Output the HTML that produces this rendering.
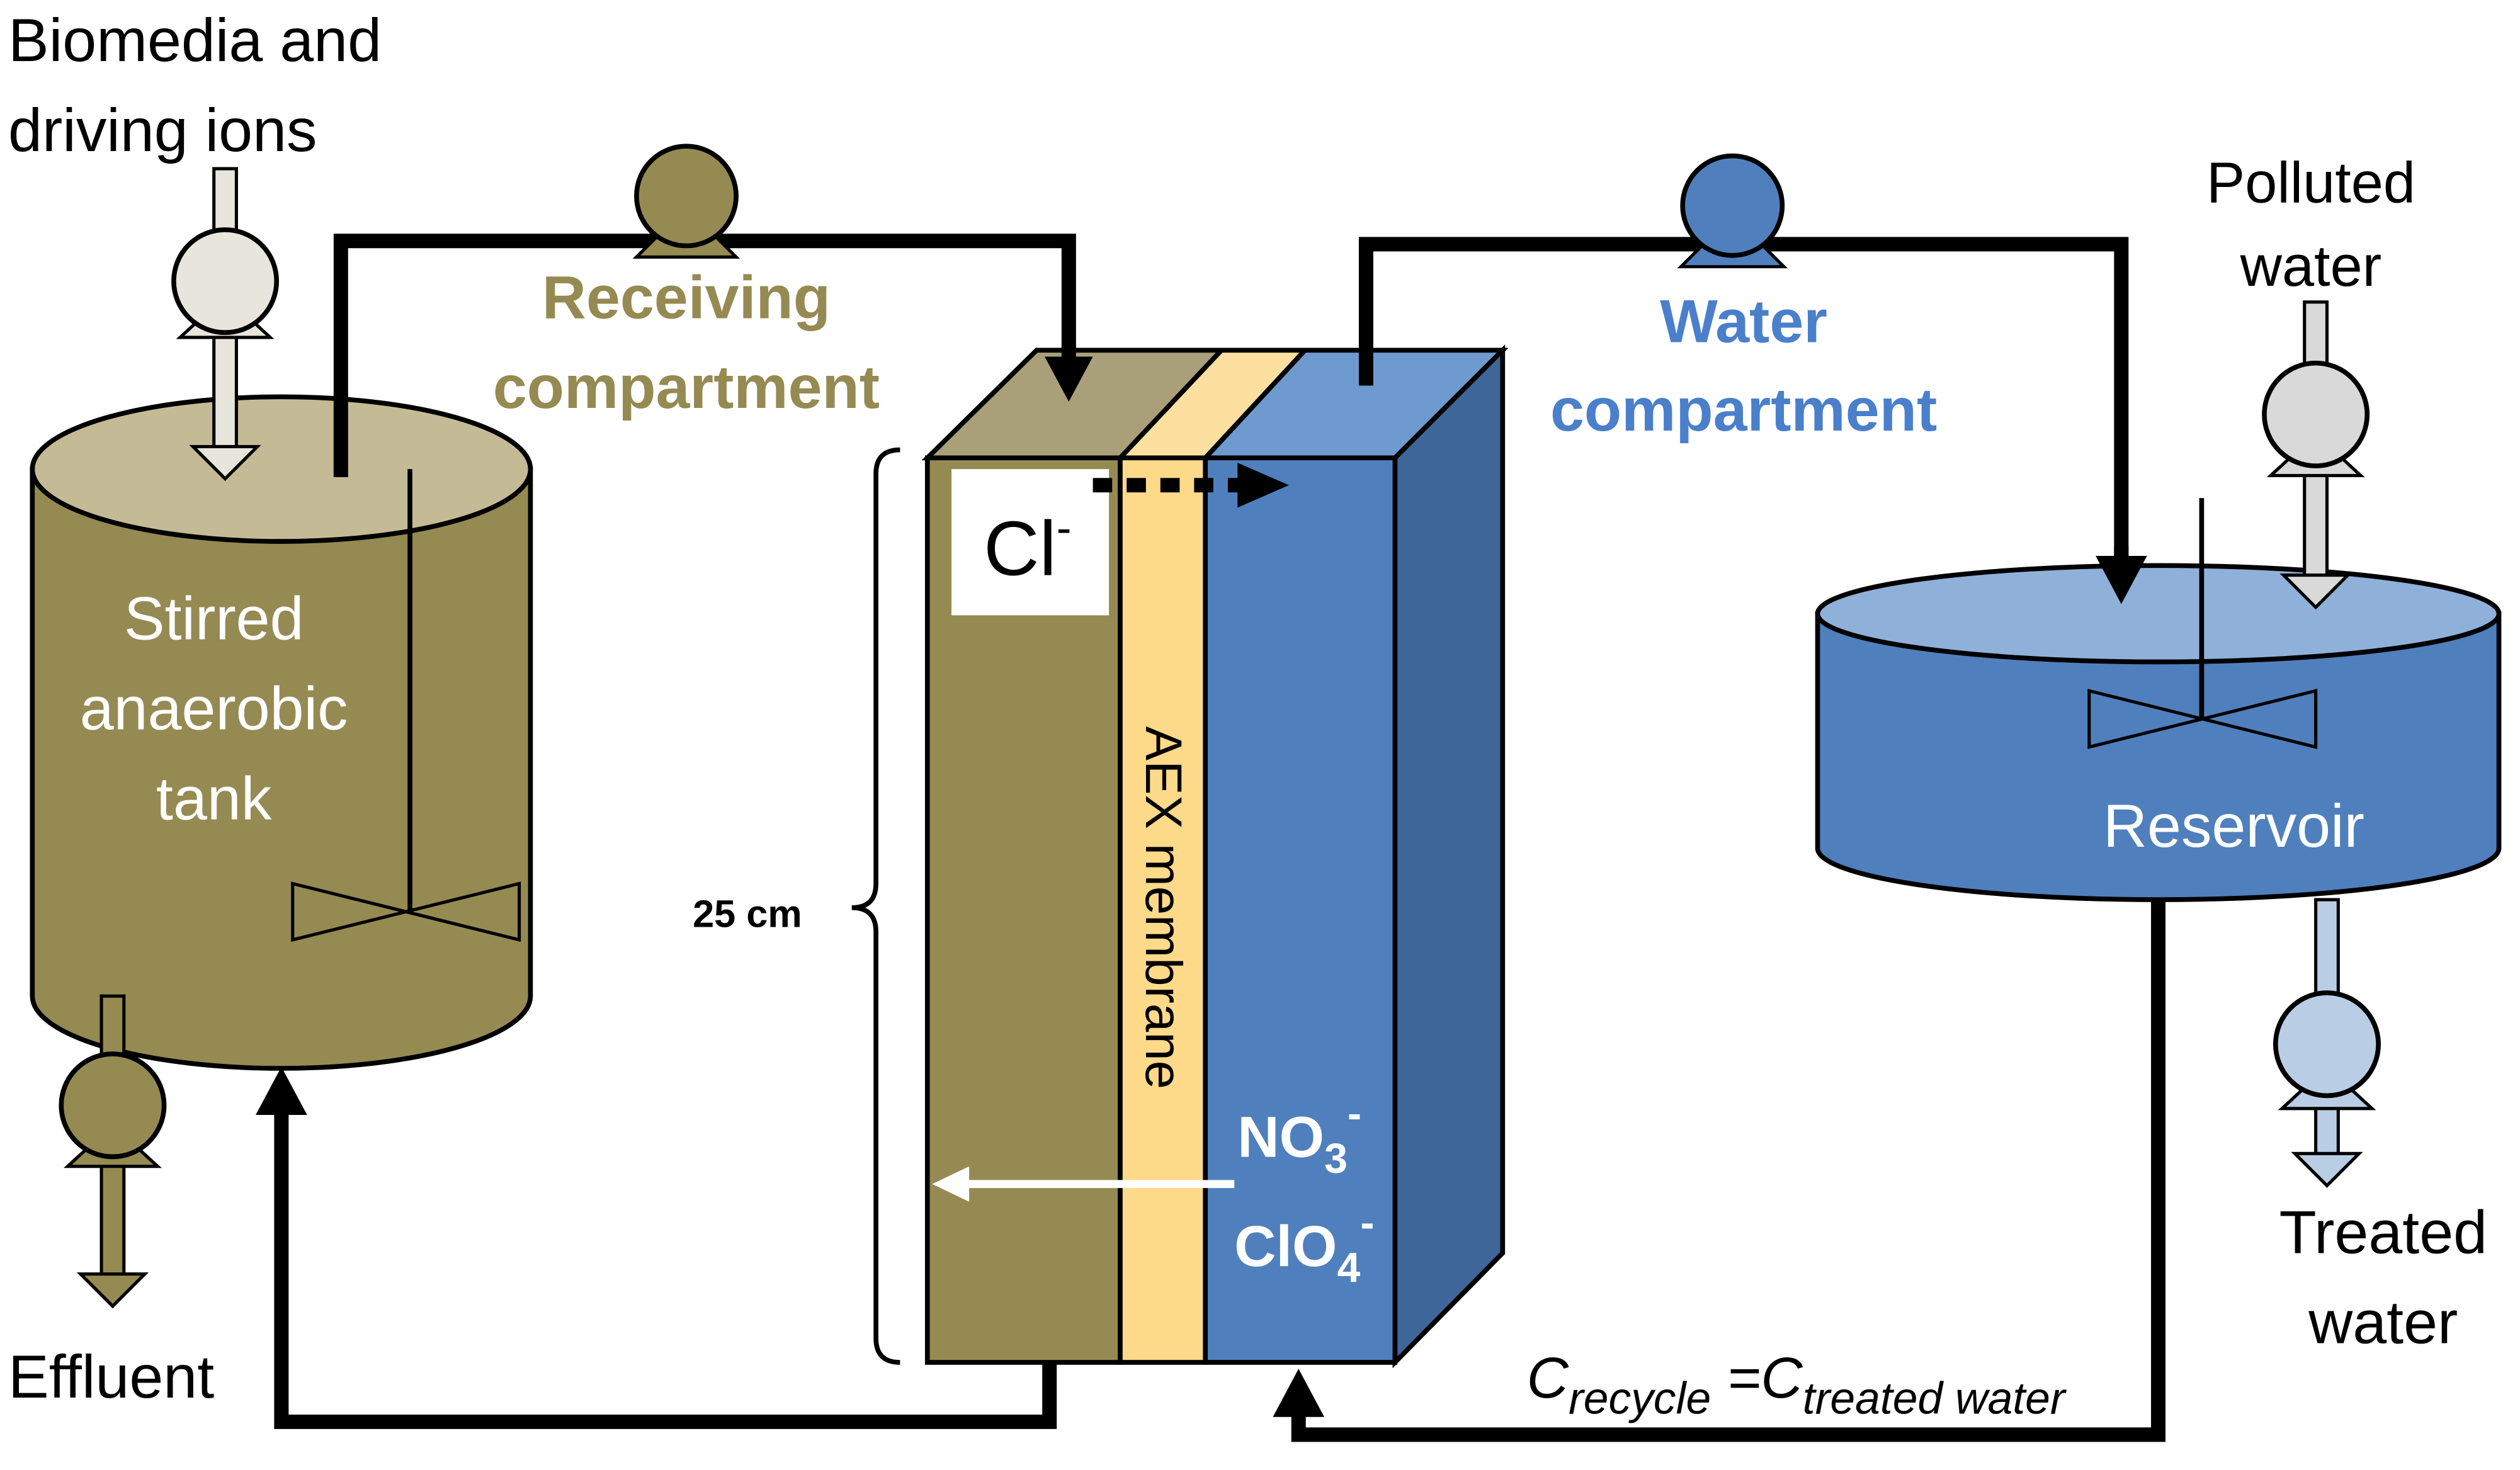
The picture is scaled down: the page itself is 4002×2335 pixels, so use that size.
<!DOCTYPE html>
<html><head><meta charset="utf-8"><style>
html,body{margin:0;padding:0;background:#fff}
svg{display:block}
text{font-family:"Liberation Sans",sans-serif}
</style></head><body>
<svg width="4002" height="2335" viewBox="0 0 1568 915" xmlns="http://www.w3.org/2000/svg">
<rect width="1568" height="915" fill="#fff"/>
<!-- Tank -->
<path d="M20,292 L20,620 A155,45 0 0 0 330,620 L330,292 Z" fill="#958a52" stroke="#000" stroke-width="3"/>
<ellipse cx="175" cy="292" rx="155" ry="45" fill="#c4bb96" stroke="#000" stroke-width="3"/>
<text x="133" y="398" font-size="38" fill="#fff" text-anchor="middle">Stirred</text>
<text x="133" y="454" font-size="38" fill="#fff" text-anchor="middle">anaerobic</text>
<text x="133" y="510" font-size="38" fill="#fff" text-anchor="middle">tank</text>
<line x1="255" y1="292" x2="255" y2="568" stroke="#000" stroke-width="3"/>
<path d="M182,550 L323,585 L323,550 L182,585 Z" fill="none" stroke="#000" stroke-width="2"/>
<!-- feed pipe -->
<rect x="133" y="105" width="14" height="175" fill="#e8e6dc" stroke="#000" stroke-width="2"/>
<path d="M120,278 L160,278 L140,298 Z" fill="#e8e6dc" stroke="#000" stroke-width="2"/>
<path d="M112,210 L168,210 L155,198 L125,198 Z" fill="#e8e6dc" stroke="#000" stroke-width="2"/>
<circle cx="140" cy="175" r="32" fill="#e8e6dc" stroke="#000" stroke-width="3"/>
<text x="5" y="38" font-size="38">Biomedia and</text>
<text x="5" y="94" font-size="38">driving ions</text>
<!-- receiving loop -->
<path d="M212,297 L212,150 L665,150 L665,225" fill="none" stroke="#000" stroke-width="9"/>
<path d="M396,160 L458,160 L444,146 L410,146 Z" fill="#958a52" stroke="#000" stroke-width="2"/>
<circle cx="427" cy="122" r="31" fill="#958a52" stroke="#000" stroke-width="3"/>
<text x="427" y="198" font-size="38" font-weight="bold" fill="#958a52" text-anchor="middle">Receiving</text>
<text x="427" y="254" font-size="38" font-weight="bold" fill="#958a52" text-anchor="middle">compartment</text>
<!-- cell -->
<polygon points="577,285 645,218 760,218 697,285" fill="#a9a079" stroke="#000" stroke-width="3"/>
<polygon points="697,285 760,218 812,218 750,285" fill="#fde0a0" stroke="#000" stroke-width="3"/>
<polygon points="750,285 812,218 935,218 868,285" fill="#6f9ad0" stroke="#000" stroke-width="3"/>
<polygon points="868,285 935,218 935,780 868,848" fill="#3f6699" stroke="#000" stroke-width="3"/>
<rect x="577" y="285" width="120" height="563" fill="#958a52" stroke="#000" stroke-width="3"/>
<rect x="697" y="285" width="53" height="563" fill="#fdd98a" stroke="#000" stroke-width="3"/>
<rect x="750" y="285" width="118" height="563" fill="#4f80bd" stroke="#000" stroke-width="3"/>
<line x1="665" y1="215" x2="665" y2="228" stroke="#000" stroke-width="9"/>
<path d="M650,222 L680,222 L665,250 Z" fill="#000"/>
<rect x="592" y="292" width="98" height="91" fill="#fff"/>
<text x="612" y="358" font-size="48">Cl<tspan font-size="28" dy="-20">-</tspan></text>
<line x1="680" y1="302" x2="775" y2="302" stroke="#000" stroke-width="9" stroke-dasharray="12,9"/>
<path d="M770,288 L802,302 L770,316 Z" fill="#000"/>
<text transform="translate(713,565) rotate(90)" font-size="32" text-anchor="middle">AEX membrane</text>
<text x="770" y="720" font-size="36" font-weight="bold" fill="#fff">NO<tspan font-size="26" dy="10">3</tspan><tspan font-size="26" dy="-28">-</tspan></text>
<text x="768" y="788" font-size="36" font-weight="bold" fill="#fff">ClO<tspan font-size="26" dy="10">4</tspan><tspan font-size="26" dy="-28">-</tspan></text>
<line x1="768" y1="737" x2="600" y2="737" stroke="#fff" stroke-width="5"/>
<path d="M603,726 L580,737 L603,748 Z" fill="#fff"/>
<!-- bracket -->
<path d="M560,280 Q545,280 545,295 L545,550 Q545,565 530,565 Q545,565 545,580 L545,833 Q545,848 560,848" fill="none" stroke="#000" stroke-width="3"/>
<text x="465" y="577" font-size="24" font-weight="bold" text-anchor="middle">25 cm</text>
<!-- water loop -->
<path d="M850,240 L850,152 L1320,152 L1320,350" fill="none" stroke="#000" stroke-width="9"/>
<path d="M1046,166 L1110,166 L1096,152 L1060,152 Z" fill="#4f80bd" stroke="#000" stroke-width="2"/>
<circle cx="1078" cy="128" r="31" fill="#4f80bd" stroke="#000" stroke-width="3"/>
<text x="1085" y="213" font-size="38" font-weight="bold" fill="#4a7fcb" text-anchor="middle">Water</text>
<text x="1085" y="268" font-size="38" font-weight="bold" fill="#4a7fcb" text-anchor="middle">compartment</text>
<!-- reservoir -->
<path d="M1131,382 L1131,528 A212,32 0 0 0 1555,528 L1555,382 Z" fill="#4f80bd" stroke="#000" stroke-width="3"/>
<ellipse cx="1343" cy="382" rx="212" ry="30" fill="#8fb0d9" stroke="#000" stroke-width="3"/>
<line x1="1320" y1="340" x2="1320" y2="352" stroke="#000" stroke-width="9"/>
<path d="M1304,346 L1336,346 L1320,376 Z" fill="#000"/>
<line x1="1370" y1="310" x2="1370" y2="448" stroke="#000" stroke-width="3"/>
<path d="M1300,430 L1441,465 L1441,430 L1300,465 Z" fill="none" stroke="#000" stroke-width="2"/>
<text x="1390" y="527" font-size="38" fill="#fff" text-anchor="middle">Reservoir</text>
<text x="1438" y="126" font-size="36" text-anchor="middle">Polluted</text>
<text x="1438" y="178" font-size="36" text-anchor="middle">water</text>
<rect x="1434" y="188" width="14" height="172" fill="#d9d9d9" stroke="#000" stroke-width="2"/>
<path d="M1421,358 L1461,358 L1441,378 Z" fill="#d9d9d9" stroke="#000" stroke-width="2"/>
<path d="M1413,296 L1469,296 L1456,284 L1426,284 Z" fill="#d9d9d9" stroke="#000" stroke-width="2"/>
<circle cx="1441" cy="258" r="32" fill="#d9d9d9" stroke="#000" stroke-width="3"/>
<rect x="1441" y="560" width="14" height="160" fill="#b9cde5" stroke="#000" stroke-width="2"/>
<path d="M1428,718 L1468,718 L1448,738 Z" fill="#b9cde5" stroke="#000" stroke-width="2"/>
<path d="M1420,690 L1476,690 L1463,678 L1433,678 Z" fill="#b9cde5" stroke="#000" stroke-width="2"/>
<circle cx="1448" cy="650" r="32" fill="#b9cde5" stroke="#000" stroke-width="3"/>
<text x="1483" y="780" font-size="38" text-anchor="middle">Treated</text>
<text x="1483" y="836" font-size="38" text-anchor="middle">water</text>
<!-- return line -->
<path d="M1343,560 L1343,893 L808,893 L808,878" fill="none" stroke="#000" stroke-width="9"/>
<path d="M792,882 L824,882 L808,852 Z" fill="#000"/>
<text x="950" y="870" font-size="36" font-style="italic">C<tspan font-size="28" dy="10">recycle</tspan><tspan dy="-10"> =C</tspan><tspan font-size="28" dy="10">treated water</tspan></text>
<!-- bottom loop -->
<path d="M653,848 L653,885 L175,885 L175,690" fill="none" stroke="#000" stroke-width="9"/>
<path d="M159,694 L191,694 L175,664 Z" fill="#000"/>
<!-- effluent -->
<rect x="63" y="620" width="14" height="175" fill="#958a52" stroke="#000" stroke-width="2"/>
<path d="M50,793 L90,793 L70,813 Z" fill="#958a52" stroke="#000" stroke-width="2"/>
<path d="M42,726 L98,726 L85,714 L55,714 Z" fill="#958a52" stroke="#000" stroke-width="2"/>
<circle cx="70" cy="688" r="32" fill="#958a52" stroke="#000" stroke-width="3"/>
<text x="5" y="870" font-size="38">Effluent</text>
</svg>
</body></html>
